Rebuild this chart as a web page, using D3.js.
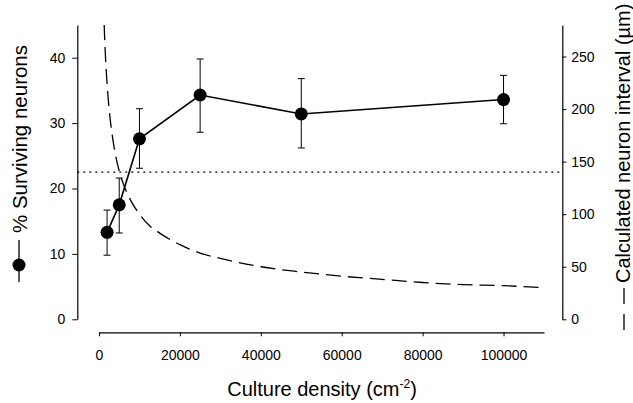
<!DOCTYPE html>
<html>
<head>
<meta charset="utf-8">
<script src="https://cdn.jsdelivr.net/npm/d3@7"></script>
<style>
  html, body { margin: 0; padding: 0; background: #fff; }
  svg { display: block; font-family: "Liberation Sans", Arial, Helvetica, sans-serif; }
</style>
</head>
<body>
<svg id="chart" width="633" height="403"></svg>
<script>
// ---- data ----
const densities = [2000, 5000, 10000, 25000, 50000, 100000];
const survival  = [13.3, 17.5, 27.6, 34.3, 31.4, 33.6];
const errLow    = [9.8, 13.2, 23.1, 28.6, 26.2, 29.9];
const errHigh   = [16.7, 21.6, 32.2, 39.8, 36.8, 37.3];

const curveDensity  = [1280, 1500, 2000, 2500, 3000, 4000, 5000, 6000, 8000, 10000, 12500, 15000, 20000, 25000, 30000, 40000, 50000, 60000, 70000, 80000, 90000, 100000, 110000];
const curveInterval = [280, 258, 224, 200, 183, 158, 141, 129, 112, 100, 89, 82, 71, 63, 58, 50, 45, 41, 38, 35, 33, 32, 30];

const thresholdPct = 22.5;

const xTicks = [0, 20000, 40000, 60000, 80000, 100000];
const leftTicks = [0, 10, 20, 30, 40];
const rightTicks = [0, 50, 100, 150, 200, 250];

const xTitle = "Culture density (cm";
const xTitleSup = "-2";
const leftTitle = "% Surviving neurons";
const rightTitle = "Calculated neuron interval (µm)";

// ---- layout ----
const svg = d3.select("#chart");
const xLeft = 99, xRight = 544, yZero = 319.3, yTop = 25;
const leftAxisX = 77.3, rightAxisX = 562.3, xAxisY = 332.3;

const x = d3.scaleLinear().domain([0, 110000]).range([xLeft, xRight]);
const yL = d3.scaleLinear().domain([0, 45]).range([yZero, yTop]);
const yR = d3.scaleLinear().domain([0, 280]).range([yZero, yTop]);

function styleAxis(g) {
  g.selectAll("path.domain").attr("stroke", "#000").attr("stroke-width", 1.2);
  g.selectAll(".tick line").attr("stroke", "#000").attr("stroke-width", 1);
  g.selectAll(".tick text").attr("fill", "#000").style("font-size", "14px")
    .style("font-family", '"Liberation Sans", Arial, sans-serif');
}

// x axis
const gx = svg.append("g").attr("transform", `translate(0,${xAxisY})`)
  .call(d3.axisBottom(x).tickValues(xTicks).tickFormat(d3.format("d"))
    .tickSize(4).tickSizeOuter(0).tickPadding(14));
styleAxis(gx);

// left axis
const gl = svg.append("g").attr("transform", `translate(${leftAxisX},0)`)
  .call(d3.axisLeft(yL).tickValues(leftTicks).tickSize(5).tickSizeOuter(0).tickPadding(7));
styleAxis(gl);

// right axis
const gr = svg.append("g").attr("transform", `translate(${rightAxisX},0)`)
  .call(d3.axisRight(yR).tickValues(rightTicks).tickSize(4).tickSizeOuter(0).tickPadding(5));
styleAxis(gr);

// dotted threshold line
svg.append("line")
  .attr("x1", leftAxisX).attr("x2", rightAxisX)
  .attr("y1", yL(thresholdPct)).attr("y2", yL(thresholdPct))
  .attr("stroke", "#000").attr("stroke-width", 1.1).attr("stroke-dasharray", "2,4");

// dashed calculated interval curve
const curvePts = curveDensity.map((d, i) => [d, curveInterval[i]]);
svg.append("path")
  .datum(curvePts)
  .attr("fill", "none").attr("stroke", "#000").attr("stroke-width", 1.3)
  .attr("stroke-dasharray", "15,7")
  .attr("d", d3.line().x(d => x(d[0])).y(d => yR(d[1])).curve(d3.curveMonotoneX));

// survival line
const pts = densities.map((d, i) => ({ d, v: survival[i], lo: errLow[i], hi: errHigh[i] }));
svg.append("path")
  .datum(pts)
  .attr("fill", "none").attr("stroke", "#000").attr("stroke-width", 1.6)
  .attr("d", d3.line().x(p => x(p.d)).y(p => yL(p.v)));

// error bars
const eb = svg.append("g").attr("stroke", "#000").attr("stroke-width", 1);
pts.forEach(p => {
  eb.append("line").attr("x1", x(p.d)).attr("x2", x(p.d)).attr("y1", yL(p.lo)).attr("y2", yL(p.hi));
  eb.append("line").attr("x1", x(p.d) - 3.5).attr("x2", x(p.d) + 3.5).attr("y1", yL(p.lo)).attr("y2", yL(p.lo));
  eb.append("line").attr("x1", x(p.d) - 3.5).attr("x2", x(p.d) + 3.5).attr("y1", yL(p.hi)).attr("y2", yL(p.hi));
});

// markers
svg.append("g").selectAll("circle").data(pts).join("circle")
  .attr("cx", p => x(p.d)).attr("cy", p => yL(p.v)).attr("r", 6.5).attr("fill", "#000");

// x title
const xt = svg.append("text")
  .attr("x", 322).attr("y", 396).attr("text-anchor", "middle")
  .style("font-size", "20px").attr("fill", "#000");
xt.append("tspan").text(xTitle);
xt.append("tspan").attr("dy", -8).style("font-size", "12px").text(xTitleSup);
xt.append("tspan").attr("dy", 8).text(")");

// left title + legend
svg.append("text")
  .attr("transform", "translate(27,233) rotate(-90)")
  .attr("text-anchor", "start").style("font-size", "20.5px").attr("fill", "#000")
  .text(leftTitle);
svg.append("line").attr("x1", 19).attr("x2", 19).attr("y1", 240).attr("y2", 282)
  .attr("stroke", "#000").attr("stroke-width", 1.3);
svg.append("circle").attr("cx", 19).attr("cy", 265).attr("r", 6.5).attr("fill", "#000");

// right title + legend
svg.append("text")
  .attr("transform", "translate(630,283) rotate(-90)")
  .attr("text-anchor", "start").style("font-size", "20px").attr("fill", "#000")
  .text(rightTitle);
svg.append("line").attr("x1", 624).attr("x2", 624).attr("y1", 288).attr("y2", 334)
  .attr("stroke", "#000").attr("stroke-width", 1.3).attr("stroke-dasharray", "16,10");
</script>
</body>
</html>
